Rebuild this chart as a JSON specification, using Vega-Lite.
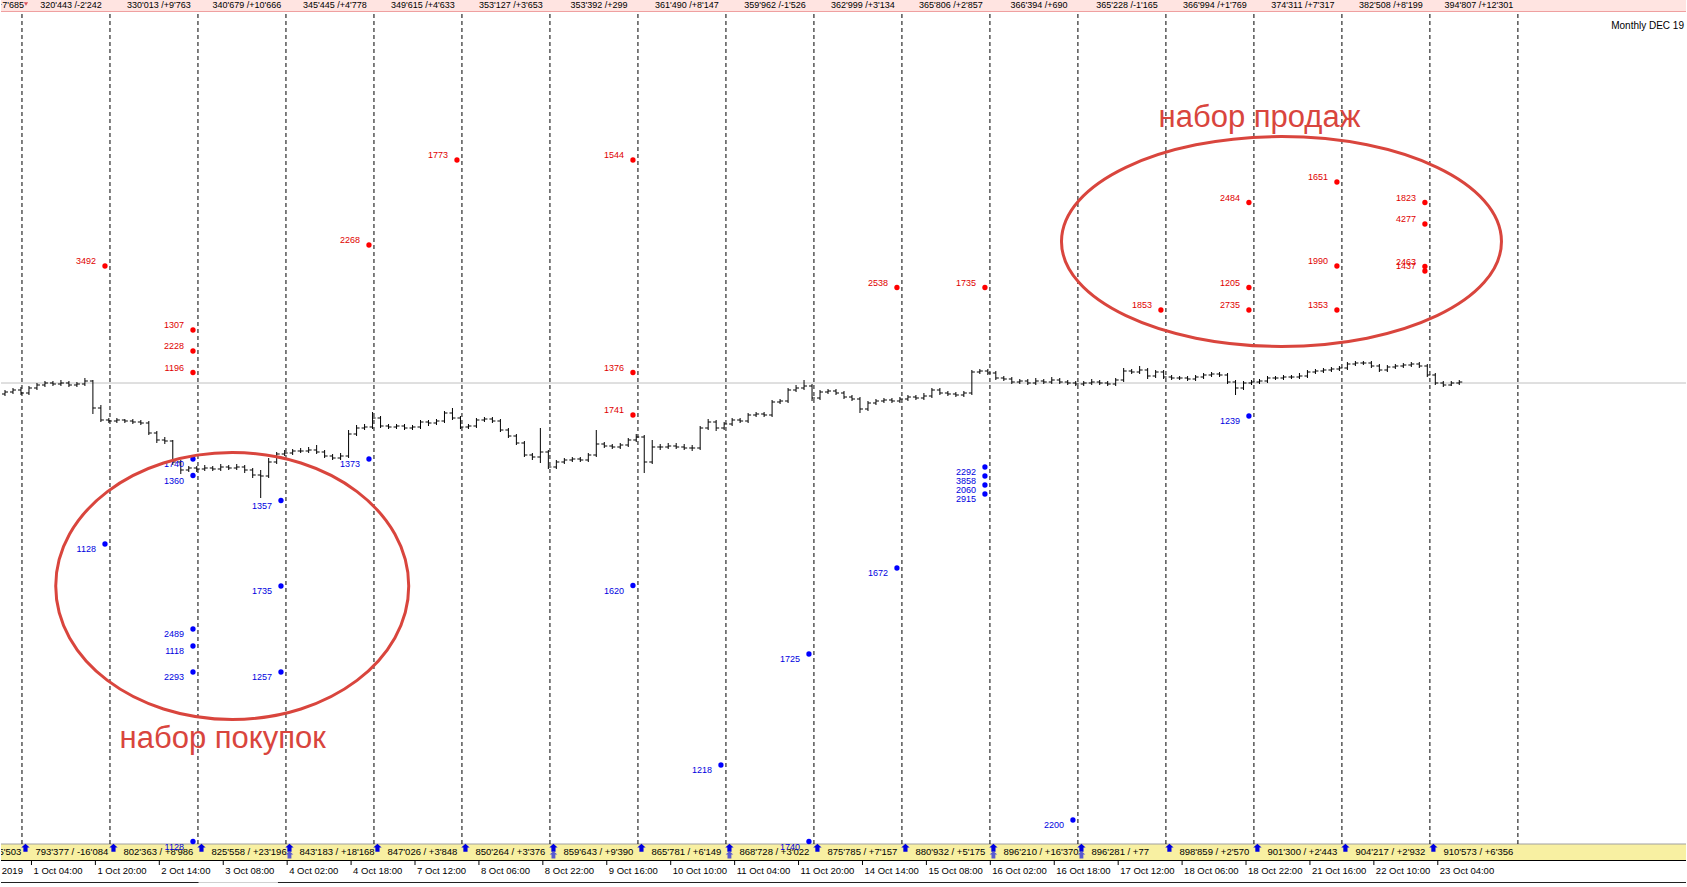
{
"$schema":"https://vega.github.io/schema/vega-lite/v6.json",
"width":1687,"height":887,"padding":0,
"autosize":{"type":"fit","contains":"padding"},
"background":"#FFFFFF",
"config":{"view":{"stroke":null},"text":{"font":"Liberation Sans"}},
"datasets":{
"bars":[
{"b":1,"o":606,"h":610,"l":604,"c":608},{"b":3,"o":608,"h":612,"l":606,"c":610},{"b":5,"o":610,"h":613,"l":605,"c":607},{"b":7,"o":607,"h":614,"l":605,"c":612},{"b":9,"o":612,"h":617,"l":610,"c":615},{"b":11,"o":615,"h":619,"l":613,"c":617},{"b":13,"o":617,"h":619,"l":614,"c":616},{"b":15,"o":616,"h":620,"l":614,"c":617},{"b":17,"o":617,"h":619,"l":613,"c":615},{"b":19,"o":615,"h":618,"l":613,"c":616},
{"b":21,"o":616,"h":622,"l":614,"c":619},{"b":23,"o":619,"h":620,"l":586,"c":592},{"b":25,"o":592,"h":595,"l":578,"c":580},{"b":27,"o":580,"h":582,"l":577,"c":579},{"b":29,"o":579,"h":582,"l":577,"c":580},{"b":31,"o":580,"h":581,"l":577,"c":579},{"b":33,"o":579,"h":581,"l":576,"c":578},{"b":35,"o":578,"h":580,"l":575,"c":577},{"b":37,"o":577,"h":579,"l":565,"c":567},{"b":39,"o":567,"h":569,"l":557,"c":560},
{"b":41,"o":560,"h":563,"l":556,"c":559},{"b":43,"o":559,"h":560,"l":535,"c":538},{"b":45,"o":538,"h":540,"l":526,"c":530},{"b":47,"o":530,"h":534,"l":528,"c":532},{"b":49,"o":532,"h":534,"l":528,"c":531},{"b":51,"o":531,"h":535,"l":529,"c":532},{"b":53,"o":532,"h":534,"l":529,"c":531},{"b":55,"o":531,"h":536,"l":529,"c":533},{"b":57,"o":533,"h":535,"l":530,"c":532},{"b":59,"o":532,"h":536,"l":530,"c":533},
{"b":61,"o":533,"h":535,"l":527,"c":530},{"b":63,"o":530,"h":532,"l":522,"c":525},{"b":65,"o":525,"h":530,"l":502,"c":524},{"b":67,"o":524,"h":542,"l":522,"c":538},{"b":69,"o":538,"h":548,"l":536,"c":546},{"b":71,"o":546,"h":550,"l":544,"c":547},{"b":73,"o":547,"h":551,"l":545,"c":549},{"b":75,"o":549,"h":552,"l":547,"c":549},{"b":77,"o":549,"h":553,"l":547,"c":550},{"b":79,"o":550,"h":555,"l":546,"c":548},
{"b":81,"o":548,"h":550,"l":542,"c":544},{"b":83,"o":544,"h":546,"l":540,"c":542},{"b":85,"o":542,"h":547,"l":540,"c":544},{"b":87,"o":544,"h":570,"l":542,"c":566},{"b":89,"o":566,"h":575,"l":564,"c":572},{"b":91,"o":572,"h":576,"l":570,"c":573},{"b":93,"o":573,"h":588,"l":571,"c":582},{"b":95,"o":582,"h":584,"l":572,"c":574},{"b":97,"o":574,"h":576,"l":571,"c":573},{"b":99,"o":573,"h":576,"l":571,"c":574},
{"b":101,"o":574,"h":576,"l":570,"c":572},{"b":103,"o":572,"h":575,"l":570,"c":573},{"b":105,"o":573,"h":580,"l":571,"c":578},{"b":107,"o":578,"h":580,"l":574,"c":577},{"b":109,"o":577,"h":581,"l":575,"c":579},{"b":111,"o":579,"h":589,"l":577,"c":587},{"b":113,"o":587,"h":592,"l":580,"c":582},{"b":115,"o":582,"h":584,"l":571,"c":573},{"b":117,"o":573,"h":576,"l":571,"c":574},{"b":119,"o":574,"h":582,"l":572,"c":580},
{"b":121,"o":580,"h":583,"l":578,"c":581},{"b":123,"o":581,"h":583,"l":577,"c":579},{"b":125,"o":579,"h":581,"l":568,"c":570},{"b":127,"o":570,"h":572,"l":562,"c":564},{"b":129,"o":564,"h":566,"l":555,"c":557},{"b":131,"o":557,"h":559,"l":543,"c":545},{"b":133,"o":545,"h":547,"l":540,"c":543},{"b":135,"o":543,"h":572,"l":537,"c":548},{"b":137,"o":548,"h":550,"l":531,"c":533},{"b":139,"o":533,"h":540,"l":531,"c":538},
{"b":141,"o":538,"h":542,"l":536,"c":540},{"b":143,"o":540,"h":543,"l":538,"c":541},{"b":145,"o":541,"h":543,"l":538,"c":540},{"b":147,"o":540,"h":547,"l":538,"c":545},{"b":149,"o":545,"h":570,"l":543,"c":556},{"b":151,"o":556,"h":558,"l":552,"c":554},{"b":153,"o":554,"h":556,"l":551,"c":553},{"b":155,"o":553,"h":557,"l":551,"c":555},{"b":157,"o":555,"h":562,"l":553,"c":560},{"b":159,"o":560,"h":566,"l":558,"c":563},
{"b":161,"o":563,"h":565,"l":527,"c":538},{"b":163,"o":538,"h":560,"l":536,"c":553},{"b":165,"o":553,"h":556,"l":550,"c":553},{"b":167,"o":553,"h":557,"l":551,"c":554},{"b":169,"o":554,"h":557,"l":551,"c":553},{"b":171,"o":553,"h":556,"l":550,"c":552},{"b":173,"o":552,"h":555,"l":549,"c":552},{"b":175,"o":552,"h":574,"l":550,"c":572},{"b":177,"o":572,"h":581,"l":570,"c":578},{"b":179,"o":578,"h":580,"l":569,"c":572},
{"b":181,"o":572,"h":578,"l":570,"c":576},{"b":183,"o":576,"h":582,"l":574,"c":580},{"b":185,"o":580,"h":582,"l":577,"c":579},{"b":187,"o":579,"h":587,"l":577,"c":585},{"b":189,"o":585,"h":588,"l":583,"c":586},{"b":191,"o":586,"h":588,"l":583,"c":585},{"b":193,"o":585,"h":600,"l":583,"c":598},{"b":195,"o":598,"h":601,"l":596,"c":599},{"b":197,"o":599,"h":612,"l":597,"c":610},{"b":199,"o":610,"h":615,"l":608,"c":612},
{"b":201,"o":612,"h":620,"l":610,"c":614},{"b":203,"o":614,"h":616,"l":599,"c":602},{"b":205,"o":602,"h":610,"l":600,"c":608},{"b":207,"o":608,"h":611,"l":606,"c":609},{"b":209,"o":609,"h":611,"l":605,"c":607},{"b":211,"o":607,"h":609,"l":601,"c":603},{"b":213,"o":603,"h":605,"l":599,"c":601},{"b":215,"o":601,"h":603,"l":587,"c":591},{"b":217,"o":591,"h":599,"l":589,"c":597},{"b":219,"o":597,"h":601,"l":595,"c":599},
{"b":221,"o":599,"h":602,"l":597,"c":600},{"b":223,"o":600,"h":602,"l":597,"c":599},{"b":225,"o":599,"h":603,"l":597,"c":601},{"b":227,"o":601,"h":605,"l":599,"c":603},{"b":229,"o":603,"h":605,"l":600,"c":602},{"b":231,"o":602,"h":607,"l":600,"c":604},{"b":233,"o":604,"h":612,"l":602,"c":610},{"b":235,"o":610,"h":612,"l":605,"c":607},{"b":237,"o":607,"h":609,"l":604,"c":606},{"b":239,"o":606,"h":608,"l":603,"c":605},
{"b":241,"o":605,"h":609,"l":603,"c":607},{"b":243,"o":607,"h":630,"l":605,"c":628},{"b":245,"o":628,"h":631,"l":626,"c":629},{"b":247,"o":629,"h":631,"l":625,"c":627},{"b":249,"o":627,"h":629,"l":620,"c":622},{"b":251,"o":622,"h":624,"l":619,"c":621},{"b":253,"o":621,"h":623,"l":616,"c":618},{"b":255,"o":618,"h":621,"l":616,"c":619},{"b":257,"o":619,"h":621,"l":615,"c":617},{"b":259,"o":617,"h":622,"l":615,"c":619},
{"b":261,"o":619,"h":621,"l":616,"c":618},{"b":263,"o":618,"h":623,"l":616,"c":620},{"b":265,"o":620,"h":622,"l":616,"c":618},{"b":267,"o":618,"h":620,"l":615,"c":617},{"b":269,"o":617,"h":619,"l":614,"c":616},{"b":271,"o":616,"h":619,"l":614,"c":617},{"b":273,"o":617,"h":621,"l":615,"c":618},{"b":275,"o":618,"h":620,"l":615,"c":617},{"b":277,"o":617,"h":619,"l":614,"c":616},{"b":279,"o":616,"h":622,"l":614,"c":620},
{"b":281,"o":620,"h":632,"l":618,"c":629},{"b":283,"o":629,"h":631,"l":626,"c":628},{"b":285,"o":628,"h":634,"l":626,"c":630},{"b":287,"o":630,"h":632,"l":621,"c":624},{"b":289,"o":624,"h":630,"l":622,"c":628},{"b":291,"o":628,"h":630,"l":621,"c":623},{"b":293,"o":623,"h":625,"l":620,"c":622},{"b":295,"o":622,"h":624,"l":620,"c":622},{"b":297,"o":622,"h":624,"l":619,"c":621},{"b":299,"o":621,"h":625,"l":619,"c":623},
{"b":301,"o":623,"h":627,"l":621,"c":625},{"b":303,"o":625,"h":628,"l":623,"c":626},{"b":305,"o":626,"h":628,"l":623,"c":625},{"b":307,"o":625,"h":627,"l":616,"c":618},{"b":309,"o":618,"h":620,"l":605,"c":612},{"b":311,"o":612,"h":619,"l":610,"c":617},{"b":313,"o":617,"h":620,"l":615,"c":618},{"b":315,"o":618,"h":621,"l":616,"c":619},{"b":317,"o":619,"h":624,"l":617,"c":622},{"b":319,"o":622,"h":624,"l":620,"c":622},
{"b":321,"o":622,"h":625,"l":620,"c":623},{"b":323,"o":623,"h":625,"l":621,"c":623},{"b":325,"o":623,"h":627,"l":621,"c":624},{"b":327,"o":624,"h":630,"l":622,"c":628},{"b":329,"o":628,"h":631,"l":626,"c":629},{"b":331,"o":629,"h":632,"l":627,"c":630},{"b":333,"o":630,"h":633,"l":628,"c":631},{"b":335,"o":631,"h":634,"l":629,"c":632},{"b":337,"o":632,"h":638,"l":630,"c":636},{"b":339,"o":636,"h":639,"l":634,"c":637},
{"b":341,"o":637,"h":639,"l":635,"c":637},{"b":343,"o":637,"h":639,"l":632,"c":634},{"b":345,"o":634,"h":636,"l":628,"c":630},{"b":347,"o":630,"h":635,"l":628,"c":633},{"b":349,"o":633,"h":636,"l":631,"c":634},{"b":351,"o":634,"h":637,"l":632,"c":635},{"b":353,"o":635,"h":638,"l":633,"c":636},{"b":355,"o":636,"h":638,"l":632,"c":634},{"b":357,"o":634,"h":636,"l":623,"c":625},{"b":359,"o":625,"h":627,"l":615,"c":617},
{"b":361,"o":617,"h":619,"l":613,"c":615},{"b":363,"o":615,"h":619,"l":614,"c":617},{"b":365,"o":617,"h":620,"l":615,"c":618}
],
"vlines":[{"b":5.25,"p":156,"p2":989},{"b":27.275,"p":156,"p2":989},{"b":49.3,"p":156,"p2":989},{"b":71.325,"p":156,"p2":989},{"b":93.35,"p":156,"p2":989},{"b":115.375,"p":156,"p2":989},{"b":137.4,"p":156,"p2":989},{"b":159.425,"p":156,"p2":989},{"b":181.45,"p":156,"p2":989},{"b":203.475,"p":156,"p2":989},{"b":225.5,"p":156,"p2":989},{"b":247.525,"p":156,"p2":989},{"b":269.55,"p":156,"p2":989},{"b":291.575,"p":156,"p2":989},{"b":313.6,"p":156,"p2":989},{"b":335.625,"p":156,"p2":989},{"b":357.65,"p":156,"p2":989},{"b":379.675,"p":156,"p2":989}],
"dots":[
{"b":26.025,"p":734,"v":"3492","side":"sell"},{"b":48.05,"p":670,"v":"1307","side":"sell"},{"b":48.05,"p":649,"v":"2228","side":"sell"},{"b":48.05,"p":627.5,"v":"1196","side":"sell"},{"b":92.1,"p":755,"v":"2268","side":"sell"},{"b":114.125,"p":840,"v":"1773","side":"sell"},{"b":158.175,"p":840,"v":"1544","side":"sell"},{"b":158.175,"p":627.5,"v":"1376","side":"sell"},{"b":158.175,"p":585,"v":"1741","side":"sell"},{"b":224.25,"p":712.5,"v":"2538","side":"sell"},{"b":246.275,"p":712.5,"v":"1735","side":"sell"},{"b":290.325,"p":690,"v":"1853","side":"sell"},{"b":312.35,"p":797.5,"v":"2484","side":"sell"},{"b":312.35,"p":712.5,"v":"1205","side":"sell"},{"b":312.35,"p":690,"v":"2735","side":"sell"},{"b":334.375,"p":818,"v":"1651","side":"sell"},{"b":334.375,"p":734,"v":"1990","side":"sell"},{"b":334.375,"p":690,"v":"1353","side":"sell"},{"b":356.4,"p":797.5,"v":"1823","side":"sell"},{"b":356.4,"p":776,"v":"4277","side":"sell"},{"b":356.4,"p":733.5,"v":"2463","side":"sell"},{"b":356.4,"p":729,"v":"1437","side":"sell"},
{"b":26.025,"p":456,"v":"1128","side":"buy"},{"b":48.05,"p":541,"v":"1740","side":"buy"},{"b":48.05,"p":524.5,"v":"1360","side":"buy"},{"b":48.05,"p":371,"v":"2489","side":"buy"},{"b":48.05,"p":354,"v":"1118","side":"buy"},{"b":48.05,"p":328,"v":"2293","side":"buy"},{"b":48.05,"p":158.5,"v":"1128","side":"buy"},{"b":70.075,"p":499.5,"v":"1357","side":"buy"},{"b":70.075,"p":414,"v":"1735","side":"buy"},{"b":70.075,"p":328,"v":"1257","side":"buy"},{"b":92.1,"p":541,"v":"1373","side":"buy"},{"b":158.175,"p":414.5,"v":"1620","side":"buy"},{"b":180.2,"p":235,"v":"1218","side":"buy"},{"b":202.225,"p":346,"v":"1725","side":"buy"},{"b":202.225,"p":158.5,"v":"1740","side":"buy"},{"b":224.25,"p":432,"v":"1672","side":"buy"},{"b":246.275,"p":533,"v":"2292","side":"buy"},{"b":246.275,"p":524,"v":"3858","side":"buy"},{"b":246.275,"p":515,"v":"2060","side":"buy"},{"b":246.275,"p":506,"v":"2915","side":"buy"},{"b":268.3,"p":180,"v":"2200","side":"buy"},{"b":312.35,"p":584,"v":"1239","side":"buy"}
],
"top":[
{"b":-2.2,"p":995,"t":"322'685 /+7'685"},{"b":17.51,"p":995,"t":"320'443 /-2'242"},{"b":39.535,"p":995,"t":"330'013 /+9'763"},{"b":61.56,"p":995,"t":"340'679 /+10'666"},{"b":83.585,"p":995,"t":"345'445 /+4'778"},{"b":105.61,"p":995,"t":"349'615 /+4'633"},{"b":127.635,"p":995,"t":"353'127 /+3'653"},{"b":149.66,"p":995,"t":"353'392 /+299"},{"b":171.685,"p":995,"t":"361'490 /+8'147"},{"b":193.71,"p":995,"t":"359'962 /-1'526"},{"b":215.735,"p":995,"t":"362'999 /+3'134"},{"b":237.76,"p":995,"t":"365'806 /+2'857"},{"b":259.785,"p":995,"t":"366'394 /+690"},{"b":281.81,"p":995,"t":"365'228 /-1'165"},{"b":303.835,"p":995,"t":"366'994 /+1'769"},{"b":325.86,"p":995,"t":"374'311 /+7'317"},{"b":347.885,"p":995,"t":"382'508 /+8'199"},{"b":369.91,"p":995,"t":"394'807 /+12'301"}
],
"yellow":[
{"b":-12.4,"p":148,"t":"809'461 / +5'503"},{"b":8.625,"p":148,"t":"793'377 / -16'084"},{"b":30.65,"p":148,"t":"802'363 / +8'986"},{"b":52.675,"p":148,"t":"825'558 / +23'196"},{"b":74.7,"p":148,"t":"843'183 / +18'168"},{"b":96.725,"p":148,"t":"847'026 / +3'848"},{"b":118.75,"p":148,"t":"850'264 / +3'376"},{"b":140.775,"p":148,"t":"859'643 / +9'390"},{"b":162.8,"p":148,"t":"865'781 / +6'149"},{"b":184.825,"p":148,"t":"868'728 / +3'022"},{"b":206.85,"p":148,"t":"875'785 / +7'157"},{"b":228.875,"p":148,"t":"880'932 / +5'175"},{"b":250.9,"p":148,"t":"896'210 / +16'370"},{"b":272.925,"p":148,"t":"896'281 / +77"},{"b":294.95,"p":148,"t":"898'859 / +2'570"},{"b":316.975,"p":148,"t":"901'300 / +2'443"},{"b":339.0,"p":148,"t":"904'217 / +2'932"},{"b":361.025,"p":148,"t":"910'573 / +6'356"}
],
"arrows":[{"b":6.125,"p":152},{"b":28.15,"p":152},{"b":50.175,"p":152},{"b":72.2,"p":152},{"b":94.225,"p":152},{"b":116.25,"p":152},{"b":138.275,"p":152},{"b":160.3,"p":152},{"b":182.325,"p":152},{"b":204.35,"p":152},{"b":226.375,"p":152},{"b":248.4,"p":152},{"b":270.425,"p":152},{"b":292.45,"p":152},{"b":314.475,"p":152},{"b":336.5,"p":152},{"b":358.525,"p":152}],
"arrows2":[{"b":72.2,"p":145},{"b":138.275,"p":145},{"b":182.325,"p":145},{"b":248.4,"p":145},{"b":270.425,"p":145}],
"axislabels":[
{"b":-8,"p":129,"t":"30 Sep 2019"},{"b":8.125,"p":129,"t":"1 Oct 04:00"},{"b":24.125,"p":129,"t":"1 Oct 20:00"},{"b":40.125,"p":129,"t":"2 Oct 14:00"},{"b":56.125,"p":129,"t":"3 Oct 08:00"},{"b":72.125,"p":129,"t":"4 Oct 02:00"},{"b":88.125,"p":129,"t":"4 Oct 18:00"},{"b":104.125,"p":129,"t":"7 Oct 12:00"},{"b":120.125,"p":129,"t":"8 Oct 06:00"},{"b":136.125,"p":129,"t":"8 Oct 22:00"},{"b":152.125,"p":129,"t":"9 Oct 16:00"},{"b":168.125,"p":129,"t":"10 Oct 10:00"},{"b":184.125,"p":129,"t":"11 Oct 04:00"},{"b":200.125,"p":129,"t":"11 Oct 20:00"},{"b":216.125,"p":129,"t":"14 Oct 14:00"},{"b":232.125,"p":129,"t":"15 Oct 08:00"},{"b":248.125,"p":129,"t":"16 Oct 02:00"},{"b":264.125,"p":129,"t":"16 Oct 18:00"},{"b":280.125,"p":129,"t":"17 Oct 12:00"},{"b":296.125,"p":129,"t":"18 Oct 06:00"},{"b":312.125,"p":129,"t":"18 Oct 22:00"},{"b":328.125,"p":129,"t":"21 Oct 16:00"},{"b":344.125,"p":129,"t":"22 Oct 10:00"},{"b":360.125,"p":129,"t":"23 Oct 04:00"}
],
"axisticks":[{"b":7.625,"p":139,"p2":135},{"b":23.625,"p":139,"p2":135},{"b":39.625,"p":139,"p2":135},{"b":55.625,"p":139,"p2":135},{"b":71.625,"p":139,"p2":135},{"b":87.625,"p":139,"p2":135},{"b":103.625,"p":139,"p2":135},{"b":119.625,"p":139,"p2":135},{"b":135.625,"p":139,"p2":135},{"b":151.625,"p":139,"p2":135},{"b":167.625,"p":139,"p2":135},{"b":183.625,"p":139,"p2":135},{"b":199.625,"p":139,"p2":135},{"b":215.625,"p":139,"p2":135},{"b":231.625,"p":139,"p2":135},{"b":247.625,"p":139,"p2":135},{"b":263.625,"p":139,"p2":135},{"b":279.625,"p":139,"p2":135},{"b":295.625,"p":139,"p2":135},{"b":311.625,"p":139,"p2":135},{"b":327.625,"p":139,"p2":135},{"b":343.625,"p":139,"p2":135},{"b":359.625,"p":139,"p2":135}]
},
"encoding":{
"x":{"field":"b","type":"quantitative","scale":{"domain":[0,421.75],"nice":false,"zero":false},"axis":null},
"y":{"field":"p","type":"quantitative","scale":{"domain":[113,1000],"nice":false,"zero":false},"axis":null}
},
"layer":[
{"data":{"values":[{"b":0,"b2":421.75,"p":989,"p2":1000}]},"mark":{"type":"rect","fill":"#FFE4E1"},"encoding":{"x2":{"field":"b2"},"y2":{"field":"p2"}}},
{"data":{"values":[{"b":0,"b2":421.75,"p":140,"p2":156}]},"mark":{"type":"rect","fill":"#F8F0A2"},"encoding":{"x2":{"field":"b2"},"y2":{"field":"p2"}}},
{"data":{"values":[{"b":0,"b2":421.75,"p":988.5}]},"mark":{"type":"rule","color":"#EFA0A0","strokeWidth":1},"encoding":{"x2":{"field":"b2"}}},
{"data":{"values":[{"b":0,"b2":421.75,"p":156}]},"mark":{"type":"rule","color":"#A0A0A0","strokeWidth":1},"encoding":{"x2":{"field":"b2"}}},
{"data":{"values":[{"b":0,"b2":421.75,"p":139.5}]},"mark":{"type":"rule","color":"#000000","strokeWidth":1},"encoding":{"x2":{"field":"b2"}}},
{"data":{"values":[{"b":0,"b2":421.75,"p":617}]},"mark":{"type":"rule","color":"#C0C0C0","strokeWidth":1},"encoding":{"x2":{"field":"b2"}}},
{"data":{"values":[{"b":0,"b2":49.5,"p":117.5},{"b":69.25,"b2":421.75,"p":117.5}]},"mark":{"type":"rule","color":"#202020","strokeWidth":1},"encoding":{"x2":{"field":"b2"}}},
{"data":{"values":[{"b":49.5,"b2":69.25,"p":117.5}]},"mark":{"type":"rule","color":"#D0D0D0","strokeWidth":1},"encoding":{"x2":{"field":"b2"}}},
{"data":{"name":"vlines"},"mark":{"type":"rule","color":"#000000","strokeWidth":1,"strokeDash":[4,3]},"encoding":{"y2":{"field":"p2"}}},
{"data":{"name":"bars"},"mark":{"type":"rule","color":"#000000","strokeWidth":1},"encoding":{"y":{"field":"l","type":"quantitative","scale":{"domain":[113,1000],"nice":false,"zero":false}},"y2":{"field":"h"}}},
{"data":{"name":"bars"},"mark":{"type":"tick","orient":"horizontal","size":3,"thickness":1,"xOffset":-1.5,"color":"#000000","opacity":1},"encoding":{"y":{"field":"o","type":"quantitative","scale":{"domain":[113,1000],"nice":false,"zero":false}}}},
{"data":{"name":"bars"},"mark":{"type":"tick","orient":"horizontal","size":3,"thickness":1,"xOffset":1.5,"color":"#000000","opacity":1},"encoding":{"y":{"field":"c","type":"quantitative","scale":{"domain":[113,1000],"nice":false,"zero":false}}}},
{"data":{"name":"top"},"mark":{"type":"text","fontSize":9,"align":"center","baseline":"middle","color":"#000000","clip":true},"encoding":{"text":{"field":"t"}}},
{"data":{"values":[{"b":6.25,"p":996}]},"mark":{"type":"point","shape":"triangle-down","filled":true,"size":18,"color":"#D8505A","opacity":1}},
{"data":{"name":"yellow"},"mark":{"type":"text","fontSize":9.5,"align":"left","baseline":"middle","color":"#000000","clip":true},"encoding":{"text":{"field":"t"}}},
{"data":{"name":"arrows"},"mark":{"type":"point","shape":"M0,-1L1,-0.1L0.5,-0.1L0.5,0.9L-0.5,0.9L-0.5,-0.1L-1,-0.1Z","filled":true,"size":70,"color":"#0000E0","opacity":1}},
{"data":{"name":"arrows2"},"mark":{"type":"point","shape":"M0,-1L1,-0.1L0.5,-0.1L0.5,0.9L-0.5,0.9L-0.5,-0.1L-1,-0.1Z","filled":true,"size":60,"color":"#5A5AD0","opacity":1}},
{"data":{"name":"axisticks"},"mark":{"type":"rule","color":"#000000","strokeWidth":1},"encoding":{"y2":{"field":"p2"}}},
{"data":{"name":"axislabels"},"mark":{"type":"text","fontSize":9.5,"align":"left","baseline":"middle","color":"#000000","clip":true},"encoding":{"text":{"field":"t"}}},
{"data":{"values":[{"b":421.25,"p":974,"t":"Monthly DEC 19"}]},"mark":{"type":"text","fontSize":10,"align":"right","baseline":"middle","color":"#000000"},"encoding":{"text":{"field":"t"}}},
{"data":{"name":"dots"},"mark":{"type":"point","shape":"circle","filled":true,"size":28,"opacity":1},"encoding":{"color":{"field":"side","type":"nominal","scale":{"domain":["sell","buy"],"range":["#FF0000","#0000FF"]},"legend":null}}},
{"data":{"name":"dots"},"transform":[{"filter":"datum.side === 'sell'"}],"mark":{"type":"text","fontSize":9,"align":"right","baseline":"middle","dx":-9,"dy":-5,"color":"#E00000"},"encoding":{"text":{"field":"v"}}},
{"data":{"name":"dots"},"transform":[{"filter":"datum.side === 'buy'"}],"mark":{"type":"text","fontSize":9,"align":"right","baseline":"middle","dx":-9,"dy":5,"color":"#0000E0"},"encoding":{"text":{"field":"v"}}},
{"data":{"values":[{"b":320.5,"p":758.5}]},"mark":{"type":"point","shape":"M-1,0C-1,-0.2634,-0.5523,-0.477,0,-0.477C0.5523,-0.477,1,-0.2634,1,0C1,0.2634,0.5523,0.477,0,0.477C-0.5523,0.477,-1,0.2634,-1,0Z","size":193600,"filled":false,"stroke":"#D9453D","strokeWidth":3,"opacity":1}},
{"data":{"values":[{"b":57.875,"p":414}]},"mark":{"type":"point","shape":"M-1,0C-1,-0.4175,-0.5523,-0.756,0,-0.756C0.5523,-0.756,1,-0.4175,1,0C1,0.4175,0.5523,0.756,0,0.756C-0.5523,0.756,-1,0.4175,-1,0Z","size":124609,"filled":false,"stroke":"#D9453D","strokeWidth":3,"opacity":1}},
{"data":{"values":[{"b":315,"p":873.3,"t":"набор продаж"},{"b":55.5,"p":251.7,"t":"набор покупок"}]},"mark":{"type":"text","fontSize":31,"align":"center","baseline":"alphabetic","color":"#D9453D"},"encoding":{"text":{"field":"t"}}}
]
}
